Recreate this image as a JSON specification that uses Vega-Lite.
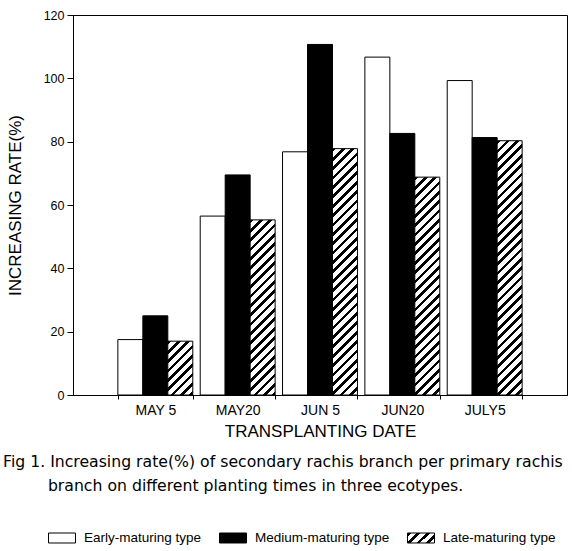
{
  "$schema": "https://vega.github.io/schema/vega-lite/v6.json",
  "width": 494,
  "height": 380,
  "autosize": {"type": "none"},
  "padding": {"left": 73, "top": 15, "right": 5, "bottom": 156},
  "background": "white",
  "params": [
    {"name": "hatchStops", "value": [
      {"offset": 0, "color": "#000"}, {"offset": 0.0125, "color": "#000"}, {"offset": 0.0125, "color": "#fff"}, {"offset": 0.03125, "color": "#fff"},
      {"offset": 0.03125, "color": "#000"}, {"offset": 0.04375, "color": "#000"}, {"offset": 0.04375, "color": "#fff"}, {"offset": 0.0625, "color": "#fff"},
      {"offset": 0.0625, "color": "#000"}, {"offset": 0.075, "color": "#000"}, {"offset": 0.075, "color": "#fff"}, {"offset": 0.09375, "color": "#fff"},
      {"offset": 0.09375, "color": "#000"}, {"offset": 0.10625, "color": "#000"}, {"offset": 0.10625, "color": "#fff"}, {"offset": 0.125, "color": "#fff"},
      {"offset": 0.125, "color": "#000"}, {"offset": 0.1375, "color": "#000"}, {"offset": 0.1375, "color": "#fff"}, {"offset": 0.15625, "color": "#fff"},
      {"offset": 0.15625, "color": "#000"}, {"offset": 0.16875, "color": "#000"}, {"offset": 0.16875, "color": "#fff"}, {"offset": 0.1875, "color": "#fff"},
      {"offset": 0.1875, "color": "#000"}, {"offset": 0.2, "color": "#000"}, {"offset": 0.2, "color": "#fff"}, {"offset": 0.21875, "color": "#fff"},
      {"offset": 0.21875, "color": "#000"}, {"offset": 0.23125, "color": "#000"}, {"offset": 0.23125, "color": "#fff"}, {"offset": 0.25, "color": "#fff"},
      {"offset": 0.25, "color": "#000"}, {"offset": 0.2625, "color": "#000"}, {"offset": 0.2625, "color": "#fff"}, {"offset": 0.28125, "color": "#fff"},
      {"offset": 0.28125, "color": "#000"}, {"offset": 0.29375, "color": "#000"}, {"offset": 0.29375, "color": "#fff"}, {"offset": 0.3125, "color": "#fff"},
      {"offset": 0.3125, "color": "#000"}, {"offset": 0.325, "color": "#000"}, {"offset": 0.325, "color": "#fff"}, {"offset": 0.34375, "color": "#fff"},
      {"offset": 0.34375, "color": "#000"}, {"offset": 0.35625, "color": "#000"}, {"offset": 0.35625, "color": "#fff"}, {"offset": 0.375, "color": "#fff"},
      {"offset": 0.375, "color": "#000"}, {"offset": 0.3875, "color": "#000"}, {"offset": 0.3875, "color": "#fff"}, {"offset": 0.40625, "color": "#fff"},
      {"offset": 0.40625, "color": "#000"}, {"offset": 0.41875, "color": "#000"}, {"offset": 0.41875, "color": "#fff"}, {"offset": 0.4375, "color": "#fff"},
      {"offset": 0.4375, "color": "#000"}, {"offset": 0.45, "color": "#000"}, {"offset": 0.45, "color": "#fff"}, {"offset": 0.46875, "color": "#fff"},
      {"offset": 0.46875, "color": "#000"}, {"offset": 0.48125, "color": "#000"}, {"offset": 0.48125, "color": "#fff"}, {"offset": 0.5, "color": "#fff"},
      {"offset": 0.5, "color": "#000"}, {"offset": 0.5125, "color": "#000"}, {"offset": 0.5125, "color": "#fff"}, {"offset": 0.53125, "color": "#fff"},
      {"offset": 0.53125, "color": "#000"}, {"offset": 0.54375, "color": "#000"}, {"offset": 0.54375, "color": "#fff"}, {"offset": 0.5625, "color": "#fff"},
      {"offset": 0.5625, "color": "#000"}, {"offset": 0.575, "color": "#000"}, {"offset": 0.575, "color": "#fff"}, {"offset": 0.59375, "color": "#fff"},
      {"offset": 0.59375, "color": "#000"}, {"offset": 0.60625, "color": "#000"}, {"offset": 0.60625, "color": "#fff"}, {"offset": 0.625, "color": "#fff"},
      {"offset": 0.625, "color": "#000"}, {"offset": 0.6375, "color": "#000"}, {"offset": 0.6375, "color": "#fff"}, {"offset": 0.65625, "color": "#fff"},
      {"offset": 0.65625, "color": "#000"}, {"offset": 0.66875, "color": "#000"}, {"offset": 0.66875, "color": "#fff"}, {"offset": 0.6875, "color": "#fff"},
      {"offset": 0.6875, "color": "#000"}, {"offset": 0.7, "color": "#000"}, {"offset": 0.7, "color": "#fff"}, {"offset": 0.71875, "color": "#fff"},
      {"offset": 0.71875, "color": "#000"}, {"offset": 0.73125, "color": "#000"}, {"offset": 0.73125, "color": "#fff"}, {"offset": 0.75, "color": "#fff"},
      {"offset": 0.75, "color": "#000"}, {"offset": 0.7625, "color": "#000"}, {"offset": 0.7625, "color": "#fff"}, {"offset": 0.78125, "color": "#fff"},
      {"offset": 0.78125, "color": "#000"}, {"offset": 0.79375, "color": "#000"}, {"offset": 0.79375, "color": "#fff"}, {"offset": 0.8125, "color": "#fff"},
      {"offset": 0.8125, "color": "#000"}, {"offset": 0.825, "color": "#000"}, {"offset": 0.825, "color": "#fff"}, {"offset": 0.84375, "color": "#fff"},
      {"offset": 0.84375, "color": "#000"}, {"offset": 0.85625, "color": "#000"}, {"offset": 0.85625, "color": "#fff"}, {"offset": 0.875, "color": "#fff"},
      {"offset": 0.875, "color": "#000"}, {"offset": 0.8875, "color": "#000"}, {"offset": 0.8875, "color": "#fff"}, {"offset": 0.90625, "color": "#fff"},
      {"offset": 0.90625, "color": "#000"}, {"offset": 0.91875, "color": "#000"}, {"offset": 0.91875, "color": "#fff"}, {"offset": 0.9375, "color": "#fff"},
      {"offset": 0.9375, "color": "#000"}, {"offset": 0.95, "color": "#000"}, {"offset": 0.95, "color": "#fff"}, {"offset": 0.96875, "color": "#fff"},
      {"offset": 0.96875, "color": "#000"}, {"offset": 0.98125, "color": "#000"}, {"offset": 0.98125, "color": "#fff"}, {"offset": 1, "color": "#fff"}
    ]}
  ],
  "data": {
    "values": [
      {"date": "MAY 5", "type": "Early-maturing type", "value": 17.5},
      {"date": "MAY 5", "type": "Medium-maturing type", "value": 25},
      {"date": "MAY 5", "type": "Late-maturing type", "value": 17},
      {"date": "MAY20", "type": "Early-maturing type", "value": 56.5},
      {"date": "MAY20", "type": "Medium-maturing type", "value": 69.5},
      {"date": "MAY20", "type": "Late-maturing type", "value": 55.3},
      {"date": "JUN 5", "type": "Early-maturing type", "value": 76.8},
      {"date": "JUN 5", "type": "Medium-maturing type", "value": 110.7},
      {"date": "JUN 5", "type": "Late-maturing type", "value": 77.8},
      {"date": "JUN20", "type": "Early-maturing type", "value": 106.7},
      {"date": "JUN20", "type": "Medium-maturing type", "value": 82.6},
      {"date": "JUN20", "type": "Late-maturing type", "value": 68.8},
      {"date": "JULY5", "type": "Early-maturing type", "value": 99.3},
      {"date": "JULY5", "type": "Medium-maturing type", "value": 81.3},
      {"date": "JULY5", "type": "Late-maturing type", "value": 80.3}
    ]
  },
  "title": {
    "text": [
      "Fig 1. Increasing rate(%) of secondary rachis branch per primary rachis",
      "\u200b\u00a0\u00a0\u00a0\u00a0\u00a0\u00a0\u00a0\u00a0\u00a0branch on different planting times in three ecotypes."
    ],
    "orient": "bottom",
    "anchor": "start",
    "frame": "group",
    "dx": -70,
    "offset": -90,
    "font": "DejaVu Sans",
    "fontSize": 15.7,
    "fontWeight": "normal",
    "lineHeight": 24,
    "color": "#000"
  },
  "mark": {"type": "bar", "stroke": "#000", "strokeWidth": 1},
  "encoding": {
    "x": {
      "field": "date",
      "type": "nominal",
      "sort": ["MAY 5", "MAY20", "JUN 5", "JUN20", "JULY5"],
      "scale": {"paddingInner": 0.09, "paddingOuter": 0.545},
      "axis": {
        "title": "TRANSPLANTING DATE",
        "labelAngle": 0,
        "tickBand": "extent",
        "tickSize": 4,
        "labelPadding": 4,
        "labelFontSize": 14,
        "titleFontSize": 17,
        "titlePadding": 6
      }
    },
    "xOffset": {
      "field": "type",
      "sort": ["Early-maturing type", "Medium-maturing type", "Late-maturing type"],
      "scale": {"paddingInner": 0, "paddingOuter": 0}
    },
    "y": {
      "field": "value",
      "type": "quantitative",
      "scale": {"domain": [0, 120], "nice": false},
      "axis": {
        "title": "INCREASING RATE(%)",
        "values": [0, 20, 40, 60, 80, 100, 120],
        "tickSize": 6,
        "labelPadding": 3,
        "labelFontSize": 12.5,
        "titleFontSize": 17,
        "titlePadding": 19,
        "grid": false
      }
    },
    "fill": {
      "field": "type",
      "type": "nominal",
      "scale": {
        "domain": ["Early-maturing type", "Medium-maturing type", "Late-maturing type"],
        "range": ["#ffffff", "#000000", {"expr": "{gradient: 'linear', x1: 0, y1: 0, x2: 9.77, y2: 3.62, stops: hatchStops}"}]
      },
      "condition": {
        "test": "datum.type === 'Late-maturing type'",
        "value": {"expr": "{gradient: 'linear', x1: 0, y1: 0, x2: 300 * bandwidth('xOffset') / (bandwidth('xOffset') * bandwidth('xOffset') + (scale('y', 0) - scale('y', datum.value)) * (scale('y', 0) - scale('y', datum.value))), y2: 300 * (scale('y', 0) - scale('y', datum.value)) / (bandwidth('xOffset') * bandwidth('xOffset') + (scale('y', 0) - scale('y', datum.value)) * (scale('y', 0) - scale('y', datum.value))), stops: hatchStops}"}
      },
      "legend": {
        "title": null,
        "orient": "none",
        "legendX": -25,
        "legendY": 509,
        "direction": "horizontal",
        "columns": 3,
        "columnPadding": 15,
        "symbolType": "M-1,-0.37H1V0.37H-1Z",
        "symbolSize": 729,
        "symbolStrokeColor": "#000",
        "symbolStrokeWidth": 1,
        "labelOffset": 8,
        "labelFontSize": 13.5,
        "labelLimit": 300
      }
    }
  },
  "config": {
    "font": "Liberation Sans",
    "view": {"stroke": "#000", "strokeWidth": 1},
    "axis": {
      "domainColor": "#000",
      "tickColor": "#000",
      "labelColor": "#000",
      "titleColor": "#000",
      "titleFontWeight": "normal",
      "labelFont": "Liberation Sans",
      "titleFont": "Liberation Sans"
    },
    "legend": {"labelColor": "#000", "labelFont": "Liberation Sans"}
  }
}
